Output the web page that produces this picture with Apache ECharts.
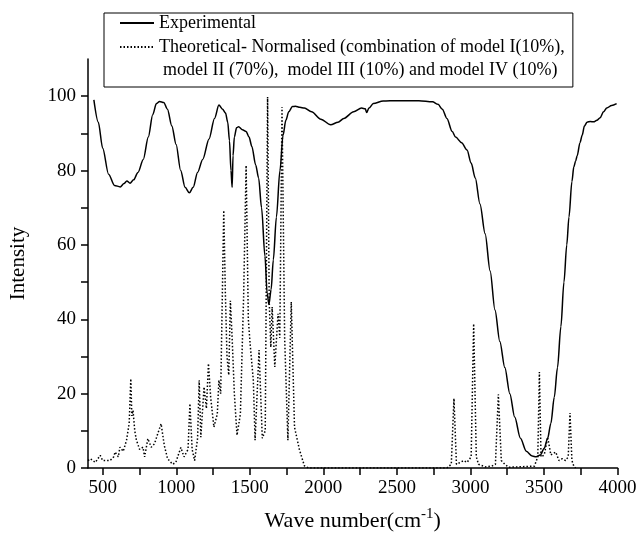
<!DOCTYPE html>
<html>
<head>
<meta charset="utf-8">
<script src="https://cdn.jsdelivr.net/npm/echarts@6.0.0/dist/echarts.min.js"></script>
<style>html,body{margin:0;padding:0;background:#fff}#chart{width:641px;height:550px}</style>
</head>
<body>
<div id="chart"></div>
<script>
// experimental spectrum
var expWave = [440,470,500,540,580,619,645,664,686,710,740,776,810,840,865,887,915,940,970,999,1030,1060,1089,1115,1145,1180,1223,1260,1290,1315,1335,1350,1362,1372,1380,1386,1395,1410,1424,1450,1475,1495,1514,1540,1560,1580,1603,1618,1630,1645,1660,1681,1705,1726,1745,1765,1790,1810,1840,1871,1920,1983,2050,2100,2139,2206,2260,2285,2295,2310,2340,2407,2500,2650,2742,2780,2809,2840,2876,2899,2940,2977,3005,3033,3065,3100,3134,3167,3200,3234,3268,3301,3340,3380,3420,3447,3475,3502,3525,3547,3570,3592,3615,3636,3655,3670,3690,3703,3715,3726,3745,3760,3775,3793,3815,3838,3860,3882,3905,3927,3960,3994];
var expInt = [99,93,86,79,76,75.6,76.5,77.2,76.6,77.5,79.5,83,89,95,98,98.6,98.3,96.5,92,87,80,75.5,74,75.5,79.5,83,88.5,94,97.6,96.5,95.5,93,88,80,75.5,84,89,91.5,91.8,91,90.5,89,86.5,81.5,78,70,57,47,44,48,56,67.5,80,89.5,93.5,95.8,97.2,97.3,97,96.8,95.8,93.8,92.3,93,94,95.8,96.8,96.6,95.6,96.8,98,98.7,98.8,98.8,98.5,97.8,96.5,94,90.5,89,87.5,85.5,82,78,71,63,53,42.5,34,27,20,13.7,8,4.5,3.2,3,3.5,5.3,8,12,19,27,38,50,60,67.5,77,81,82.5,84,87.5,89.5,92,93,93.2,93.1,93.5,94.2,95.8,96.8,97.5,98];

// theoretical normalised spectrum
var theoWave = [400,416,450,483,500,516,550,575,584,606,617,640,662,680,691,698,706,718,729,751,774,785,807,830,852,874,897,919,941,975,997,1031,1053,1080,1093,1108,1125,1145,1156,1167,1189,1205,1219,1234,1256,1279,1290,1302,1323,1334,1345,1357,1368,1380,1395,1413,1436,1458,1475,1490,1502,1524,1536,1563,1585,1605,1621,1632,1643,1652,1670,1692,1704,1719,1737,1759,1782,1804,1837,1871,1900,2840,2870,2888,2905,2955,2977,3005,3022,3040,3055,3100,3145,3170,3190,3210,3234,3260,3435,3458,3469,3480,3502,3525,3547,3580,3602,3625,3647,3665,3677,3690,3703,3715];
var theoInt = [2,2.5,1.5,3.4,2,2,2,3,4.3,3,5.6,4.5,7.5,12,24,14,15.5,10,7.5,5,5.6,3,7.9,5.6,6.5,9.2,11.9,6,2.5,1,1.5,5.5,3,5,17.3,5,2,8,23.6,8.3,21.8,16,28.1,19,11,14.5,23.6,20,69.3,46.9,30,25,45,35,20,8.8,14.5,46,81.4,40,33.5,23.6,7.5,31.7,8,10,99.8,45,32.5,43.3,27.2,41.5,35,97.1,35,7.5,44.7,11,5,0.6,0,0,1,18.7,1,2,1.5,3,38.8,3,1,0.3,0.5,1,19.8,2,1,0.2,0.5,3,25.8,3,3.5,8.3,3.5,4.3,2,2.5,2,3,14.8,2,0.5,0];

var xTicks = [500,750,1000,1250,1500,1750,2000,2250,2500,2750,3000,3250,3500,3750,4000];
var xLabels = [500,1000,1500,2000,2500,3000,3500,4000];
var yTicks = [0,10,20,30,40,50,60,70,80,90,100];
var yLabels = [0,20,40,60,80,100];

var legendLine3 = 'model II (70%),  model III (10%) and model IV (10%)';

function pairs(xs, ys) {
  var out = [];
  for (var i = 0; i < xs.length; i++) out.push([xs[i], ys[i]]);
  return out;
}

var serif = '"Liberation Serif", "Times New Roman", serif';
var chart = echarts.init(document.getElementById('chart'));
chart.setOption({
  animation: false,
  backgroundColor: '#fff',
  textStyle: { fontFamily: serif, color: '#000' },
  grid: { left: 81, right: 23.5, top: 59, bottom: 82 },
  legend: {
    orient: 'vertical',
    left: 104,
    top: 13,
    padding: [1, 8, 31, 15],
    itemGap: 6,
    itemWidth: 34,
    itemHeight: 14,
    borderColor: '#000',
    borderWidth: 1,
    itemStyle: { opacity: 0 },
    textStyle: { fontFamily: serif, fontSize: 18, color: '#000', lineHeight: 18 },
    data: ['Experimental', 'Theoretical- Normalised (combination of model I(10%),']
  },
  graphic: [{
    type: 'text',
    x: 163,
    y: 70,
    style: { text: legendLine3, fill: '#000', font: '18px ' + serif, verticalAlign: 'middle' }
  }],
  xAxis: {
    type: 'value',
    min: 400,
    max: 4000,
    name: 'Wave number(cm{sup|-1})',
    nameLocation: 'middle',
    nameGap: 39,
    nameTextStyle: {
      fontFamily: serif, fontSize: 22, color: '#000',
      rich: { sup: { fontFamily: serif, fontSize: 15, color: '#000', verticalAlign: 'bottom', padding: [0, 0, 13, 0] } }
    },
    axisLine: { onZero: false, lineStyle: { color: '#000', width: 1.5 } },
    axisTick: { length: 7, lineStyle: { color: '#000', width: 1.5 }, customValues: xTicks },
    axisLabel: {
      fontFamily: serif, fontSize: 19, color: '#000', margin: 11, customValues: xLabels,
      formatter: function (v) { return String(v); }
    },
    splitLine: { show: false }
  },
  yAxis: {
    type: 'value',
    min: 0,
    max: 110,
    name: 'Intensity',
    nameLocation: 'middle',
    nameGap: 59,
    nameTextStyle: { fontFamily: serif, fontSize: 21, color: '#000' },
    axisLine: { show: true, lineStyle: { color: '#000', width: 1.5 } },
    axisTick: { show: true, length: 7, lineStyle: { color: '#000', width: 1.5 }, customValues: yTicks },
    axisLabel: { fontFamily: serif, fontSize: 19, color: '#000', margin: 12, customValues: yLabels },
    splitLine: { show: false }
  },
  series: [
    {
      name: 'Experimental',
      type: 'line',
      data: pairs(expWave, expInt),
      showSymbol: false,
      symbol: 'none',
      smooth: 0.3,
      smoothMonotone: 'x',
      lineStyle: { color: '#000', width: 1.5 },
      itemStyle: { color: '#000' },
      z: 3
    },
    {
      name: 'Theoretical- Normalised (combination of model I(10%),',
      type: 'line',
      data: pairs(theoWave, theoInt),
      showSymbol: false,
      symbol: 'none',
      lineStyle: { color: '#000', width: 1.5, type: [1.5, 2] },
      itemStyle: { color: '#000' },
      z: 2
    }
  ]
});
</script>
</body>
</html>
